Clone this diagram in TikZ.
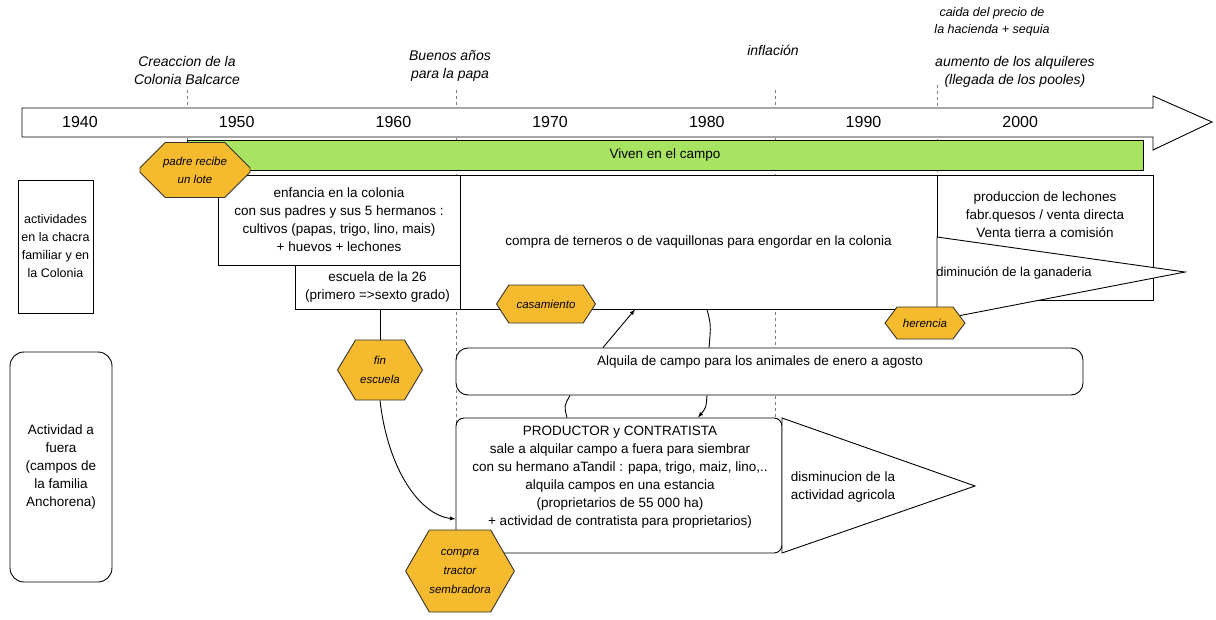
\documentclass[tikz,border=0pt]{standalone}
\usepackage{fontspec}
\setmainfont{Liberation Sans}
\usetikzlibrary{shapes.symbols,shapes.misc}
\definecolor{hexfill}{RGB}{246,186,46}
\definecolor{barfill}{RGB}{168,228,98}

\begin{document}
\begin{tikzpicture}[x=1pt,y=-1pt,line width=0.9pt,
  box/.style={draw,fill=white,align=center,inner sep=0pt,font=\fontsize{13.5}{18}\selectfont},
  txt/.style={align=center,inner sep=0pt,font=\fontsize{13.5}{18}\selectfont},
  hexa/.style={draw=black!80,fill=hexfill,shape=signal,signal to=west and east,align=center,inner sep=0pt,font=\fontsize{11.5}{19}\selectfont\itshape},
  octa/.style={draw=black!80,fill=hexfill,shape=chamfered rectangle,align=center,inner sep=0pt,font=\fontsize{11.5}{18}\selectfont\itshape},
  yearlbl/.style={font=\fontsize{16}{18}\selectfont},
  eventlbl/.style={align=center,font=\fontsize{14}{18}\selectfont\itshape},
  vline/.style={gray,dashed,line width=0.5pt},
  link/.style={->,>=latex}]
\useasboundingbox (0,0) rectangle (1216,619);

% dashed lines of the events
\draw[vline] (187,90) -- (187,145);
\draw[vline] (456,90) -- (456,535);
\draw[vline] (775,90) -- (775,420);
\draw[vline] (937,85) -- (937,320);

% time axis
\draw[fill=white] (22,108) -- (1153,108) -- (1153,96) -- (1212,122) -- (1153,150) -- (1153,137) -- (22,137) -- cycle;
\foreach \yr [count=\i from 0] in {1940,1950,...,2000}
  \node[yearlbl] (y\yr) at (80+\i*156.7,122) {\yr};

\node[eventlbl] (colonia) at (187,70) {Creaccion de la\\Colonia Balcarce};
\node[eventlbl] (papa) at (450,66) {Buenos años\\para la papa};
\node[eventlbl] (inflacion) at (773,50) {inflación};
\node[eventlbl,font=\fontsize{12.5}{17}\selectfont\itshape] (sequia) at (992,22) {caida del precio de\\la hacienda + sequia};
\node[eventlbl] (pooles) at (1015,72) {aumento de los alquileres\\(llegada de los pooles)};

\node[box,fill=barfill,minimum width=956,minimum height=30] (campo) at (665,155) {Viven en el campo};

% rows
\node[box,minimum width=75,minimum height=133,font=\fontsize{12.5}{18}\selectfont] (chacra) at (55.5,246.5) {actividades\\en la chacra\\familiar y en\\la Colonia};
\node[box,rounded corners=14,minimum width=102,minimum height=230] (afuera) at (61,467) {Actividad a\\fuera\\(campos de\\la familia\\Anchorena)};

\node[box,minimum width=242,minimum height=90] (enfancia) at (339,220) {enfancia en la colonia\\con sus padres y sus 5 hermanos :\\cultivos (papas, trigo, lino, mais)\\+ huevos + lechones};
\node[box,minimum width=165,minimum height=44] (escuela) at (377.5,287) {escuela de la 26\\(primero =>sexto grado)};
\node[box,minimum width=477,minimum height=134] (compra) at (698.5,242) {compra de terneros o de vaquillonas para engordar en la colonia};
\node[box,minimum width=216,minimum height=125] (lechones) at (1045,237.5) {};
\node[txt] (lechonestxt) at (1045,215) {produccion de lechones\\fabr.quesos / venta directa\\Venta tierra a comisión};
\draw[fill=white] (937,237) -- (1185,272) -- (937,320) -- cycle;
\node[txt,font=\fontsize{13}{18}\selectfont] (ganaderia) at (1014,273) {diminución de la ganaderia};

\node[box,rounded corners=12,minimum width=627,minimum height=47] (alquila) at (769.5,371.5) {};
\node[txt] (alquilatxt) at (760,362) {Alquila de campo para los animales de enero a agosto};

\node[box,rounded corners=8,minimum width=326,minimum height=135] (productor) at (619,485.5) {};
\node[txt] (productortxt) at (620,477) {PRODUCTOR y CONTRATISTA\\sale a alquilar campo a fuera para siembrar\\con su hermano aTandil : papa, trigo, maiz, lino,..\\alquila campos en una estancia\\(proprietarios de 55 000 ha)\\+ actividad de contratista para proprietarios)};
\draw[fill=white] (782,418) -- (975,486) -- (782,553) -- cycle;
\node[txt] (agricola) at (843,487) {disminucion de la\\actividad agricola};

% events
\node[octa,minimum width=110,minimum height=55,chamfered rectangle xsep=22pt,chamfered rectangle ysep=12pt] (padre) at (195,170) {padre recibe\\un lote};
\node[hexa,minimum width=99,minimum height=38,signal pointer angle=114] (casamiento) at (546,304) {casamiento};
\node[hexa,minimum width=80,minimum height=32,signal pointer angle=106] (herencia) at (925,323) {herencia};
\node[hexa,minimum width=85,minimum height=60,signal pointer angle=118] (fin) at (380,370) {fin\\escuela};
\node[hexa,minimum width=90,minimum height=82,signal pointer angle=120] (tractor) at (460,571) {compra\\tractor\\sembradora};

% links
\draw (escuela.south -| fin.north) -- (fin.north);
\draw[link] (fin.south) .. controls (388,470) and (420,515) .. (productor.west |- 0,519);
\draw[link] (alquila.north -| 603,0) -- (compra.south -| 635,0);
\draw (compra.south -| 707,0) .. controls (711,325) .. (alquila.north -| 709,0);
\draw (alquila.south -| 570,0) .. controls (564,406) .. (productor.north -| 567,0);
\draw[link] (alquila.south -| 707,0) .. controls (706,408) .. (productor.north -| 698,0);
\end{tikzpicture}
\end{document}
